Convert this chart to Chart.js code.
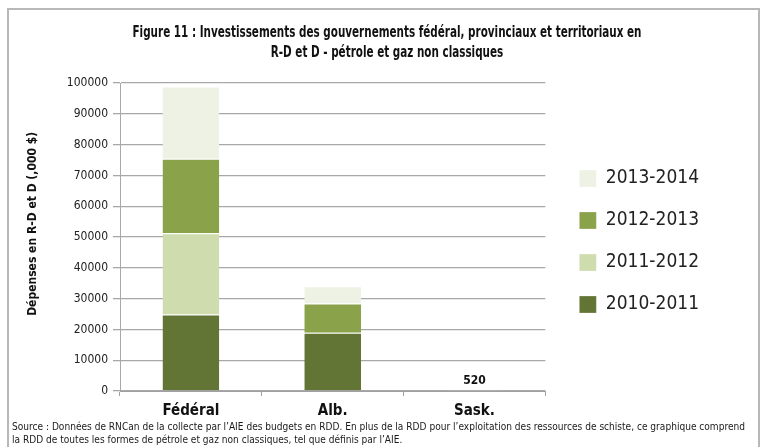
<!DOCTYPE html>
<html>
<head>
<meta charset="utf-8">
<script src="https://cdn.jsdelivr.net/npm/chart.js@4.4.1/dist/chart.umd.min.js"></script>
<style>
  body { margin: 0; background: #fff; }
  #wrap { width: 767px; height: 447px; }
</style>
</head>
<body>
<div id="wrap"><canvas id="chart" width="767" height="447"></canvas></div>
<script>
var regions = ['Fédéral', 'Alb.', 'Sask.'];
var years = ['2010-2011', '2011-2012', '2012-2013', '2013-2014'];
var colors = ['#627535', '#cfdcae', '#8aa24a', '#eef2e4'];

// depenses en milliers de $ par exercice
var v2010 = [24800, 18900, 0];
var v2011 = [26400, 0, 0];
var v2012 = [24200, 9500, 0];
var v2013 = [23500, 5600, 520];
var values = [v2010, v2011, v2012, v2013];

var yTicks = [0, 10000, 20000, 30000, 40000, 50000, 60000, 70000, 80000, 90000, 100000];

var titleLines = [
    'Figure 11 : Investissements des gouvernements fédéral, provinciaux et territoriaux en',
    'R-D et D - pétrole et gaz non classiques'
];
var sourceLines = [
    'Source : Données de RNCan de la collecte par l’AIE des budgets en RDD. En plus de la RDD pour l’exploitation des ressources de schiste, ce graphique comprend',
    'la RDD de toutes les formes de pétrole et gaz non classiques, tel que définis par l’AIE.'
];
var labelledBar = 2; // only Sask. gets its total written above

var narrow = '"DejaVu Sans Condensed", "Liberation Sans", sans-serif';

function buildDatasets() {
    var sets = [];
    for (var i = 0; i < years.length; i++) {
        sets.push({
            label: years[i],
            data: values[i],
            backgroundColor: colors[i],
            borderColor: '#ffffff',
            borderWidth: {top: 1, right: 0, bottom: 0, left: 0},
            borderSkipped: false,
            categoryPercentage: 1,
            barPercentage: 0.4
        });
    }
    return sets;
}

// draw lines of text squeezed horizontally so the first one spans `width`
function squeezedText(ctx, lines, font, width, x, ys, align) {
    ctx.font = font;
    var k = Math.min(1, width / ctx.measureText(lines[0]).width);
    for (var i = 0; i < lines.length; i++) {
        var w = ctx.measureText(lines[i]).width * k;
        var left = align === 'center' ? x - w / 2 : x;
        ctx.save();
        ctx.translate(left, ys[i]);
        ctx.scale(k, 1);
        ctx.fillText(lines[i], 0, 0);
        ctx.restore();
    }
}

// grey frame, title and source note
var framePlugin = {
    id: 'frame',
    afterLayout: function(chart) {
        // push the legend a bit further from the plot and up
        var lg = chart.legend;
        lg.left += 11; lg.right += 11;
        lg.top -= 13; lg.bottom -= 13;
    },
    afterDraw: function(chart) {
        var ctx = chart.ctx;
        ctx.save();
        ctx.strokeStyle = '#b8b8b8';
        ctx.lineWidth = 2;
        ctx.strokeRect(8, 9, 751, 460);
        ctx.textBaseline = 'middle';
        ctx.fillStyle = '#111';
        squeezedText(ctx, titleLines, 'bold 15px ' + narrow, 509, 387, [33, 53], 'center');
        ctx.fillStyle = '#1a1a1a';
        squeezedText(ctx, sourceLines, '11px ' + narrow, 733, 12, [427, 440], 'left');
        ctx.restore();
    }
};

// stacked total above one bar
var totalPlugin = {
    id: 'total',
    afterDatasetsDraw: function(chart) {
        var ctx = chart.ctx;
        var total = 0;
        for (var i = 0; i < values.length; i++) total += values[i][labelledBar];
        var meta = chart.getDatasetMeta(0);
        var x = meta.data[labelledBar].x;
        var y = chart.scales.y.getPixelForValue(total);
        ctx.save();
        ctx.fillStyle = '#111';
        ctx.font = 'bold 12px ' + narrow;
        ctx.textAlign = 'center';
        ctx.textBaseline = 'bottom';
        ctx.fillText(String(total), x, y - 3);
        ctx.restore();
    }
};

new Chart(document.getElementById('chart'), {
    type: 'bar',
    data: { labels: regions, datasets: buildDatasets() },
    options: {
        responsive: false,
        animation: false,
        layout: { padding: { left: 8, right: 69, top: 83, bottom: 21 } },
        plugins: {
            title: { display: false },
            legend: {
                position: 'right',
                reverse: true,
                labels: {
                    color: '#222',
                    font: { family: narrow, size: 19 },
                    boxWidth: 17,
                    boxHeight: 17,
                    padding: 23
                }
            },
            tooltip: { enabled: false }
        },
        scales: {
            x: {
                stacked: true,
                grid: { drawOnChartArea: false, color: '#a0a0a0', tickLength: 5 },
                border: { color: '#a0a0a0' },
                ticks: { color: '#111', font: { family: narrow, size: 15, weight: 'bold' }, padding: 6 }
            },
            y: {
                stacked: true,
                min: 0,
                max: 100000,
                afterBuildTicks: function(scale) {
                    scale.ticks = yTicks.map(function(v) { return { value: v }; });
                },
                afterFit: function(scale) { scale.width = 112; },
                grid: { color: '#a8a8a8', lineWidth: 1.3, tickLength: 7 },
                border: { color: '#a8a8a8' },
                ticks: {
                    color: '#222',
                    font: { family: narrow, size: 12 },
                    padding: 5,
                    callback: function(v) { return String(v); }
                },
                title: {
                    display: true,
                    // leading spaces lift the rotated label slightly above centre
                    text: '       Dépenses en R-D et D (,000 $)',
                    color: '#111',
                    font: { family: narrow, size: 12, weight: 'bold' },
                    padding: { top: 18, bottom: 0 }
                }
            }
        }
    },
    plugins: [framePlugin, totalPlugin]
});
</script>
</body>
</html>
